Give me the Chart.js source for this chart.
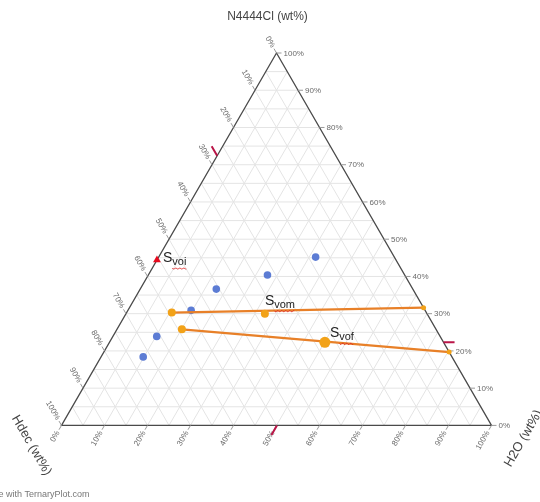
<!DOCTYPE html>
<html>
<head>
<meta charset="utf-8">
<script src="https://cdn.jsdelivr.net/npm/chart.js@4/dist/chart.umd.min.js"></script>
<style>
  html, body { margin: 0; padding: 0; background: #fff; }
  #wrap { width: 540px; height: 502px; position: relative; }
</style>
</head>
<body>
<div id="wrap"><canvas id="c" width="540" height="502"></canvas></div>
<script>
// Component order for every triple below: N4444Cl, Hdec, H2O (wt%)
const axisNames = ['N4444Cl (wt%)', 'Hdec (wt%)', 'H2O (wt%)'];
const tickValues = [0, 10, 20, 30, 40, 50, 60, 70, 80, 90, 100];

// Measured compositions (blue)
const dataN    = [45.2, 40.4, 36.6, 30.9, 23.9, 18.4];
const dataHdec = [18.3, 31.9, 45.7, 54.4, 65.9, 71.8];
const dataH2O  = [36.5, 27.7, 17.7, 14.7, 10.2,  9.8];

// Tie line through S_vom: organic end, overall mixture, aqueous end
const tieMN    = [30.3, 30.0, 31.6];
const tieMHdec = [59.2, 37.7,  0.0];
const tieMH2O  = [10.5, 32.3, 68.4];

// Tie line through S_vof
const tieFN    = [25.8, 22.3, 19.7];
const tieFHdec = [59.1, 27.6,  0.0];
const tieFH2O  = [15.1, 50.1, 80.3];

// S_voi (initial, on the N4444Cl–Hdec side)
const voiN    = [44.4];
const voiHdec = [55.6];
const voiH2O  = [0.0];

const H = Math.sqrt(3) / 2;
// Barycentric -> cartesian: Hdec corner (0,0), H2O corner (1,0), N4444Cl apex (0.5, H)
function toXY(n, hd, w) {
  const s = n + hd + w;
  return { x: (w + n / 2) / s, y: (n / s) * H };
}
function series(ns, hds, ws, idx) {
  const out = [];
  (idx || ns.map((_, i) => i)).forEach(i => out.push(toXY(ns[i], hds[i], ws[i])));
  return out;
}

const BLUE = 'rgb(92,124,212)';
const ORANGE = 'rgb(232,128,40)';
const GOLD = 'rgb(242,162,24)';
const CRIMSON = 'rgb(186,22,72)';
const FONT = '"Liberation Sans", Arial, sans-serif';

// Grid, frame, ticks and tick labels
const ternaryAxes = {
  id: 'ternaryAxes',
  beforeDatasetsDraw(chart) {
    const { ctx, scales: { x: xs, y: ys } } = chart;
    const P = (n, hd, w) => {
      const p = toXY(n, hd, w);
      return [xs.getPixelForValue(p.x), ys.getPixelForValue(p.y)];
    };
    const seg = (a, b) => { ctx.moveTo(a[0], a[1]); ctx.lineTo(b[0], b[1]); };
    ctx.save();
    ctx.lineWidth = 1;
    ctx.strokeStyle = '#e4e4e4';
    ctx.beginPath();
    for (let v = 5; v < 100; v += 5) {
      seg(P(v, 100 - v, 0), P(v, 0, 100 - v));      // constant N4444Cl
      seg(P(0, 100 - v, v), P(100 - v, 0, v));      // constant H2O
      seg(P(0, v, 100 - v), P(100 - v, v, 0));      // constant Hdec
    }
    ctx.stroke();

    // frame
    ctx.strokeStyle = '#4a4a4a';
    ctx.lineWidth = 1.3;
    ctx.beginPath();
    const A = P(100, 0, 0), B = P(0, 100, 0), C = P(0, 0, 100);
    ctx.moveTo(A[0], A[1]); ctx.lineTo(B[0], B[1]); ctx.lineTo(C[0], C[1]); ctx.closePath();
    ctx.stroke();

    // ticks + labels
    ctx.strokeStyle = '#9a9a9a';
    ctx.lineWidth = 1;
    ctx.fillStyle = '#6a6a6a';
    ctx.font = '8px ' + FONT;
    const cos = 0.5, sin = H;
    tickValues.forEach(t => {
      const lab = t + '%';
      // right side: N4444Cl
      let p = P(t, 0, 100 - t);
      ctx.beginPath(); ctx.moveTo(p[0], p[1]); ctx.lineTo(p[0] + 5, p[1]); ctx.stroke();
      ctx.textAlign = 'left'; ctx.textBaseline = 'middle';
      ctx.fillText(lab, p[0] + 7, p[1] + 0.5);
      // left side: Hdec
      p = P(100 - t, t, 0);
      ctx.beginPath(); ctx.moveTo(p[0], p[1]); ctx.lineTo(p[0] - 5 * cos, p[1] - 5 * sin); ctx.stroke();
      ctx.save();
      ctx.translate(p[0] - 7 * cos, p[1] - 7 * sin);
      ctx.rotate(Math.PI / 3);
      ctx.textAlign = 'right'; ctx.textBaseline = 'middle';
      ctx.fillText(lab, 0, 0);
      ctx.restore();
      // bottom: H2O
      p = P(0, 100 - t, t);
      ctx.beginPath(); ctx.moveTo(p[0], p[1]); ctx.lineTo(p[0] - 5 * cos, p[1] + 5 * sin); ctx.stroke();
      ctx.save();
      ctx.translate(p[0] - 7 * cos, p[1] + 7 * sin);
      ctx.rotate(-Math.PI / 3);
      ctx.textAlign = 'right'; ctx.textBaseline = 'middle';
      ctx.fillText(lab, 0, 0);
      ctx.restore();
    });

    // axis titles
    ctx.fillStyle = '#444';
    ctx.textAlign = 'center'; ctx.textBaseline = 'middle';
    ctx.font = '12px ' + FONT;
    ctx.fillText(axisNames[0], A[0] - 9, 17);
    ctx.font = '13px ' + FONT;
    ctx.save(); ctx.translate(B[0] - 30, B[1] + 20); ctx.rotate(Math.PI / 3); ctx.fillText(axisNames[1], 0, 0); ctx.restore();
    ctx.save(); ctx.translate(C[0] + 32, C[1] + 13); ctx.rotate(-Math.PI / 3); ctx.fillText(axisNames[2], 0, 0); ctx.restore();

    // credit line
    ctx.fillStyle = '#777';
    ctx.font = '9px ' + FONT;
    ctx.textAlign = 'left'; ctx.textBaseline = 'alphabetic';
    ctx.fillText('Made with TernaryPlot.com', -19, 497);
    ctx.restore();
  },
  afterDatasetsDraw(chart) {
    const { ctx, scales: { x: xs, y: ys } } = chart;
    const P = (n, hd, w) => {
      const p = toXY(n, hd, w);
      return [xs.getPixelForValue(p.x), ys.getPixelForValue(p.y)];
    };
    ctx.save();
    // highlighted composition (S_vof): projections onto the three axes
    const n = tieFN[1], hd = tieFHdec[1], w = tieFH2O[1];
    const tot = n + hd + w;
    const cos = 0.5, sin = H;
    ctx.strokeStyle = CRIMSON;
    ctx.lineWidth = 2;
    ctx.beginPath();
    let p = P(n, 0, tot - n);
    ctx.moveTo(p[0], p[1]); ctx.lineTo(p[0] + 11, p[1]);
    p = P(tot - hd, hd, 0);
    ctx.moveTo(p[0], p[1]); ctx.lineTo(p[0] - 11 * cos, p[1] - 11 * sin);
    p = P(0, tot - w, w);
    ctx.moveTo(p[0], p[1]); ctx.lineTo(p[0] - 11 * cos, p[1] + 11 * sin);
    ctx.stroke();

    // point names: S with subscript and a wavy underline
    const label = (pt, dx, dy, sub) => {
      const x = pt[0] + dx, y = pt[1] + dy;
      ctx.fillStyle = '#222';
      ctx.textAlign = 'left'; ctx.textBaseline = 'alphabetic';
      ctx.font = '14px ' + FONT;
      ctx.fillText('S', x, y);
      const sx = x + ctx.measureText('S').width;
      ctx.font = '11px ' + FONT;
      ctx.fillText(sub, sx, y + 3);
      const sw = ctx.measureText(sub).width;
      ctx.strokeStyle = 'rgb(222,40,40)';
      ctx.lineWidth = 0.9;
      ctx.beginPath();
      for (let i = 0; i <= sw; i += 1) {
        const yy = y + 6 + ((i % 4) < 2 ? (i % 2) : 1 - (i % 2));
        if (i === 0) ctx.moveTo(sx + i, yy); else ctx.lineTo(sx + i, yy);
      }
      ctx.stroke();
    };
    label(P(voiN[0], voiHdec[0], voiH2O[0]), 6, 2, 'voi');
    label(P(tieMN[1], tieMHdec[1], tieMH2O[1]), 0, -9, 'vom');
    label(P(tieFN[1], tieFHdec[1], tieFH2O[1]), 5, -5, 'vof');
    ctx.restore();
  }
};

new Chart(document.getElementById('c'), {
  type: 'scatter',
  data: {
    datasets: [
      {
        label: 'S_voi',
        data: series(voiN, voiHdec, voiH2O),
        pointStyle: 'triangle', pointRadius: 4.5,
        backgroundColor: 'rgb(230,10,30)', borderColor: 'rgb(230,10,30)', borderWidth: 0,
        order: 0
      },
      {
        label: 'Mixtures',
        data: [toXY(tieMN[1], tieMHdec[1], tieMH2O[1]), toXY(tieFN[1], tieFHdec[1], tieFH2O[1])],
        pointRadius: [4, 5.5],
        backgroundColor: GOLD, borderColor: GOLD, borderWidth: 0,
        order: 1
      },
      {
        type: 'line',
        label: 'Tie line (S_vom)',
        data: series(tieMN, tieMHdec, tieMH2O, [0, 2]),
        borderColor: ORANGE, borderWidth: 2.2,
        pointRadius: [4, 2.5], backgroundColor: GOLD, pointBorderWidth: 0,
        showLine: true, fill: false, tension: 0,
        order: 2
      },
      {
        type: 'line',
        label: 'Tie line (S_vof)',
        data: series(tieFN, tieFHdec, tieFH2O, [0, 2]),
        borderColor: ORANGE, borderWidth: 2.2,
        pointRadius: [4, 2.5], backgroundColor: GOLD, pointBorderWidth: 0,
        showLine: true, fill: false, tension: 0,
        order: 2
      },
      {
        label: 'Binodal',
        data: series(dataN, dataHdec, dataH2O),
        pointRadius: 3.8,
        backgroundColor: BLUE, borderColor: BLUE, borderWidth: 0,
        order: 5
      }
    ]
  },
  options: {
    responsive: false,
    animation: false,
    events: [],
    clip: false,
    layout: { padding: { left: 61.5, right: 48.5, top: 53, bottom: 76.6 } },
    scales: {
      x: { type: 'linear', min: 0, max: 1, display: false },
      y: { type: 'linear', min: 0, max: H, display: false }
    },
    plugins: {
      legend: { display: false },
      tooltip: { enabled: false },
      title: { display: false }
    }
  },
  plugins: [ternaryAxes]
});
</script>
</body>
</html>
